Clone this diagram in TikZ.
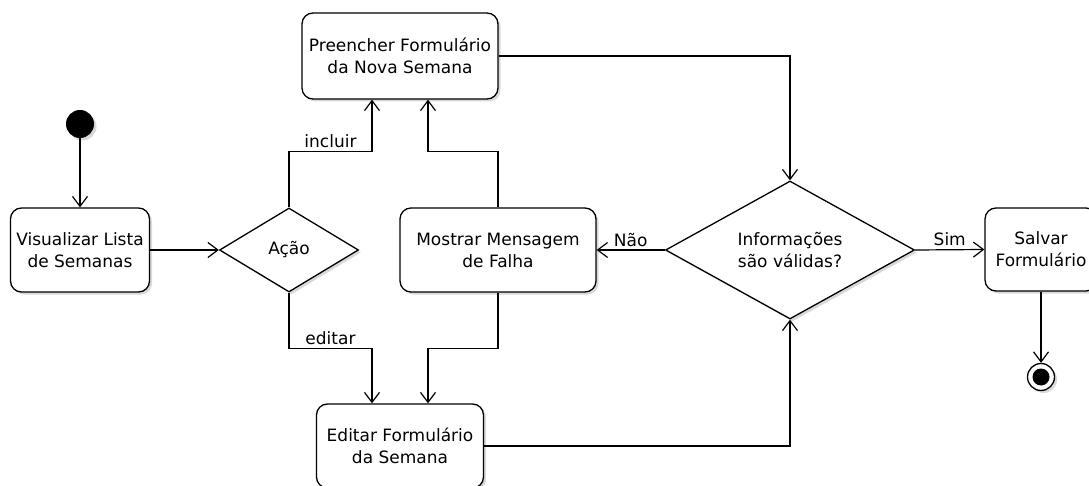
\documentclass[tikz,border=0pt]{standalone}
\usepackage{fontspec}
\setmainfont{DejaVu Sans}
\usetikzlibrary{shapes.geometric,arrows.meta,shadows}
\begin{document}
\begin{tikzpicture}[x=1pt,y=-1pt,
  font=\fontsize{17}{22}\selectfont,
  shade/.style={drop shadow={shadow xshift=2.5pt,shadow yshift=-2.5pt,opacity=0.25,fill=black!60}},
  act/.style={draw, rounded corners=11pt, line width=1.3pt, fill=white, align=center, inner sep=2pt, shade},
  dec/.style={draw, diamond, aspect=1.8, inner sep=0pt, fill=white, line width=1.3pt, align=center, shade},
  arr/.style={-{Straight Barb[length=10pt,width=15pt,line width=1.2pt]}, line width=1.2pt},
  lbl/.style={above, inner sep=3pt}]
\useasboundingbox (0,0) rectangle (1089,486);

\node[act, minimum width=139pt, minimum height=84pt] (vis) at (80,250) {Visualizar Lista\\de Semanas};
\node[dec, minimum width=139pt, minimum height=84pt] (acao) at (289,250) {Ação};
\node[act, minimum width=196pt, minimum height=86pt] (pre) at (400,56) {Preencher Formulário\\da Nova Semana};
\node[act, minimum width=196pt, minimum height=84pt] (mos) at (498,250) {Mostrar Mensagem\\de Falha};
\node[act, minimum width=167pt, minimum height=84pt] (edi) at (400,446) {Editar Formulário\\da Semana};
\node[dec, minimum width=249pt, minimum height=138pt] (inf) at (790,250) {Informações\\são válidas?};
\node[act, minimum width=112pt, minimum height=83pt] (sal) at (1041,249.5) {Salvar\\Formulário};
\node[circle, fill=black, minimum size=28pt, inner sep=0pt, shade] (ini) at (80,124) {};
\node[circle, draw, line width=1.3pt, fill=white, minimum size=27pt, inner sep=0pt, shade] (fim) at (1041,377) {};
\node[circle, fill=black, minimum size=17pt, inner sep=0pt] (fimc) at (fim) {};

\draw[arr] (ini) -- (vis);
\draw[arr] (vis) -- (acao);
\draw[arr] (acao.north) -- ++(0,-56) -| node[pos=0.25, lbl] {incluir} ([xshift=-28pt]pre.south);
\draw[arr] (mos.north) -- ++(0,-56) -| ([xshift=28pt]pre.south);
\draw[arr] (acao.south) -- ++(0,56) -| node[pos=0.25, lbl] {editar} ([xshift=-28pt]edi.north);
\draw[arr] (mos.south) -- ++(0,56) -| ([xshift=28pt]edi.north);
\draw[arr] (pre.east) -| (inf.north);
\draw[arr] (edi.east) -| (inf.south);
\draw[arr] (inf.west) -- node[lbl] {Não} (mos.east);
\draw[arr] (inf.east) -- node[lbl] {Sim} (sal.west);
\draw[arr] (sal.south) -- (fim.north);
\end{tikzpicture}
\end{document}
